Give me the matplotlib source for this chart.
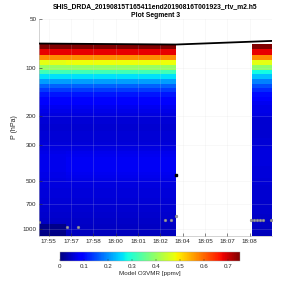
import numpy as np
import matplotlib
matplotlib.use("Agg")
import matplotlib.pyplot as plt

plt.rcParams['font.family'] = ['Liberation Sans', 'DejaVu Sans']

# ---- data ----
title_lines = ["SHIS_DRDA_20190815T165411end20190816T001923_rtv_m2.h5", "Plot Segment 3"]

# time (minutes after 17:00) edges of retrieval columns; gap column is NaN
time_edges = [55.10, 56.85, 63.97, 68.88, 70.18]

# pressure level edges (hPa)
p_edges = [71.5398, 77.2396, 83.2310, 89.5204, 96.1138, 103.0172, 110.2366, 117.7775,
           125.6456, 133.8462, 142.3848, 151.2664, 160.4959, 170.0784, 180.0183, 190.3203,
           200.9887, 212.0277, 223.4415, 235.2338, 247.4085, 259.9691, 272.9191, 286.2617,
           300.0000, 314.1369, 328.6753, 343.6176, 358.9665, 374.7241, 390.8926, 407.4738,
           424.4698, 441.8819, 459.7118, 477.9607, 496.6298, 515.7200, 535.2322, 555.1669,
           575.5248, 596.3062, 617.5112, 639.1398, 661.1920, 683.6673, 706.5654, 729.8857,
           753.6275, 777.7897, 802.3714, 827.3713, 852.7880, 878.6201, 904.8659, 931.5236,
           958.5911, 986.0666, 1013.9476, 1042.2319, 1070.9170, 1100.0000]

o3_col0 = [0.75, 0.68, 0.57, 0.47, 0.40, 0.32, 0.26, 0.21, 0.165, 0.135, 0.11, 0.095, 0.085,
           0.075, 0.068, 0.062, 0.058, 0.056, 0.055, 0.055, 0.056, 0.057, 0.058, 0.060, 0.062,
           0.066, 0.070, 0.072, 0.073, 0.073, 0.073, 0.072, 0.071, 0.070, 0.068, 0.066, 0.064,
           0.063, 0.062, 0.061, 0.060, 0.060, 0.059, 0.058, 0.057, 0.056, 0.055, 0.054, 0.053,
           0.052, 0.051, 0.050, 0.049, 0.047, 0.046, 0.008, 0.007, 0.006, 0.006, 0.005, 0.005]
o3_col1 = [0.75, 0.68, 0.57, 0.48, 0.40, 0.32, 0.26, 0.21, 0.165, 0.135, 0.11, 0.095, 0.085,
           0.075, 0.068, 0.062, 0.058, 0.056, 0.055, 0.055, 0.056, 0.057, 0.058, 0.060, 0.062,
           0.066, 0.072, 0.076, 0.078, 0.079, 0.079, 0.078, 0.077, 0.075, 0.072, 0.068, 0.065,
           0.063, 0.062, 0.061, 0.060, 0.059, 0.059, 0.058, 0.057, 0.056, 0.055, 0.054, 0.053,
           0.052, 0.051, 0.050, 0.049, 0.048, 0.047, 0.046, 0.045, 0.044, 0.043, 0.042, 0.041]
o3_col3 = [0.75, 0.68, 0.57, 0.47, 0.39, 0.28, 0.235, 0.19, 0.15, 0.125, 0.10, 0.085, 0.075,
           0.070, 0.068, 0.066, 0.056, 0.054, 0.053, 0.053, 0.054, 0.055, 0.056, 0.058, 0.060,
           0.062, 0.063, 0.063, 0.063, 0.062, 0.062, 0.061, 0.060, 0.060, 0.059, 0.058, 0.057,
           0.056, 0.055, 0.055, 0.054, 0.054, 0.053, 0.053, 0.052, 0.052, 0.051, 0.051, 0.050,
           0.050, 0.049, 0.049, 0.048, 0.047, 0.046, 0.045, 0.044, 0.043, 0.042, 0.041, 0.040]

# aircraft pressure track
flight_time = [55.10, 63.96, 70.18]
flight_p = [71.0, 72.0, 68.4]

# surface/cloud markers
grey_time = [55.10, 56.89, 57.64, 63.23, 63.62, 63.96, 68.81, 69.00, 69.20, 69.40, 69.60, 70.13]
grey_p = [897, 960, 960, 871, 871, 827, 871, 871, 871, 871, 871, 871]
black_time = [63.99]
black_p = [459]

tick_times = [55.72 + i * 13.0 / 9.0 for i in range(10)]
tick_labels = ["17:55", "17:57", "17:58", "18:00", "18:01", "18:02", "18:04", "18:05", "18:07", "18:08"]
yticks = [50, 100, 200, 300, 500, 700, 1000]
cticks = [0, 0.1, 0.2, 0.3, 0.4, 0.5, 0.6, 0.7]

# ---- plot ----
nan_col = [np.nan] * len(o3_col1)
C = np.array([o3_col0, o3_col1, nan_col, o3_col3]).T

fig = plt.figure(figsize=(3, 3), dpi=100)
ax = fig.add_axes([0.13, 0.213, 0.777, 0.724])
mesh = ax.pcolormesh(time_edges, p_edges, np.ma.masked_invalid(C), cmap='jet',
                     vmin=0, vmax=0.75, shading='flat', zorder=1)
ax.plot(flight_time, flight_p, color='black', lw=1.3, zorder=4)
ax.plot(grey_time, grey_p, 'o', ls='none', ms=2.0, color='#a0a0a0', mec='#7a7a7a', mew=0.3, zorder=5)
ax.plot(black_time, black_p, 's', ls='none', ms=1.6, color='black', zorder=5)

ax.set_yscale('log')
ax.set_ylim(1100, 50)
ax.set_xlim(55.10, 70.18)
ax.set_yticks(yticks)
ax.set_yticklabels([str(v) for v in yticks])
ax.yaxis.set_minor_locator(matplotlib.ticker.NullLocator())
ax.set_xticks(tick_times)
ax.set_xticklabels(tick_labels)
ax.tick_params(axis='both', which='both', direction='in', length=2, width=0.4,
               labelsize=4.5, colors='#262626', pad=2)
ax.grid(True, color='#d8d8d8', lw=0.4, alpha=0.3, zorder=3)
ax.set_axisbelow(False)
for s in ['top', 'right']:
    ax.spines[s].set_visible(False)
for s in ['left', 'bottom']:
    ax.spines[s].set_color('#b0b0b0')
    ax.spines[s].set_linewidth(0.4)
ax.set_ylabel('P (hPa)', fontsize=5, color='#262626', labelpad=3)
fig.text(0.517, 0.977, title_lines[0], ha='center', va='center', fontsize=4.9, fontweight='bold')
fig.text(0.517, 0.948, title_lines[1], ha='center', va='center', fontsize=4.9, fontweight='bold')

cax = fig.add_axes([0.2, 0.13, 0.6, 0.031])
cb = fig.colorbar(mesh, cax=cax, orientation='horizontal', ticks=cticks)
cb.ax.set_xticklabels([str(v) if v != 0 else '0' for v in cticks])
cb.ax.tick_params(direction='in', length=1.5, width=0.3, labelsize=4.5, colors='#262626', pad=2)
cb.outline.set_linewidth(0.3)
cb.outline.set_edgecolor('#a0a0a0')
cb.set_label('Model O3VMR [ppmv]', fontsize=4.5, color='#262626', labelpad=1.5)

fig.savefig('out.png', dpi=100)
